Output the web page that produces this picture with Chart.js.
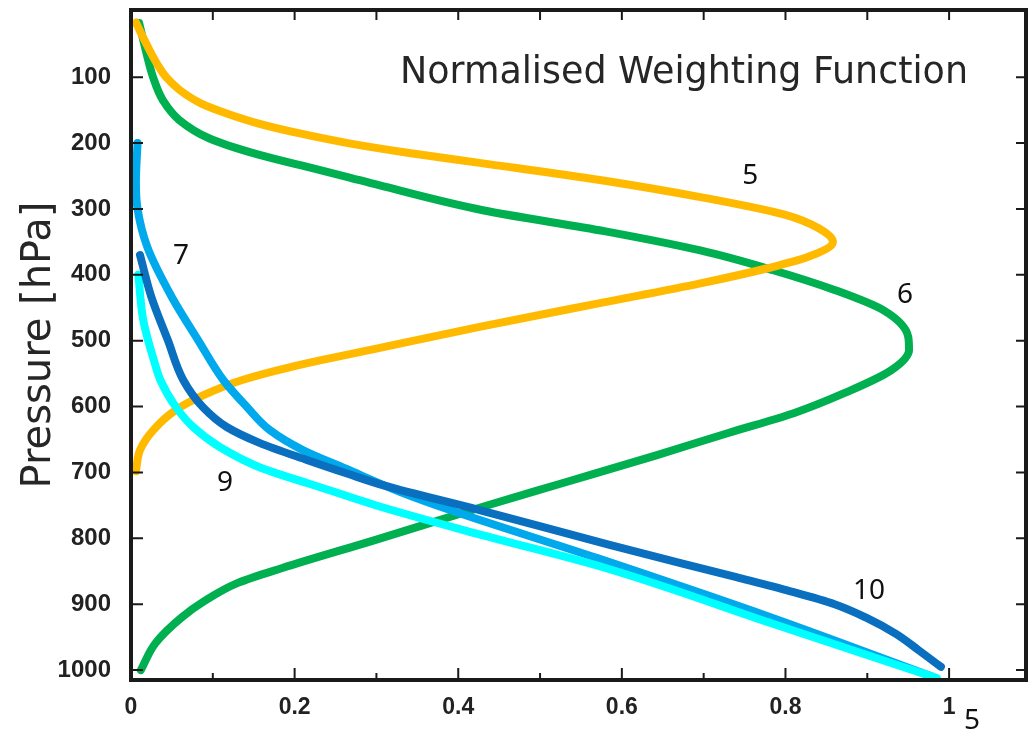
<!DOCTYPE html>
<html>
<head>
<meta charset="utf-8">
<script src="https://cdn.jsdelivr.net/npm/chart.js@4.4.1/dist/chart.umd.min.js"></script>
<style>
  html, body { margin: 0; padding: 0; background: #fff; }
  #wrap { width: 1036px; height: 729px; }
</style>
</head>
<body>
<div id="wrap"><canvas id="wfChart" width="1036" height="729"></canvas></div>
<script>
// tick values
const pressureTicks = [100, 200, 300, 400, 500, 600, 700, 800, 900, 1000];
const weightTicks = [0, 0.1, 0.2, 0.3, 0.4, 0.5, 0.6, 0.7, 0.8, 0.9, 1.0];

// channel 5 (orange)
const ch5Weight = [0.006, 0.019, 0.032, 0.043, 0.06, 0.086, 0.117, 0.155, 0.205, 0.265, 0.34, 0.426, 0.573, 0.696, 0.80, 0.84, 0.858, 0.827, 0.778, 0.696, 0.573, 0.426, 0.30, 0.195, 0.135, 0.088, 0.055, 0.027, 0.011, 0.006];
const ch5Pressure = [17, 50, 80, 100, 120, 140, 155, 170, 185, 200, 215, 230, 256, 282, 309, 329, 350, 373, 390, 413, 443, 479, 512, 540, 560, 583, 605, 636, 666, 698];

// channel 6 (green)
const ch6Weight = [0.01, 0.018, 0.027, 0.039, 0.059, 0.096, 0.157, 0.218, 0.26, 0.303, 0.43, 0.58, 0.696, 0.785, 0.86, 0.92, 0.95, 0.951, 0.929, 0.871, 0.81, 0.73, 0.642, 0.528, 0.43, 0.297, 0.185, 0.13, 0.09, 0.062, 0.03, 0.012];
const ch6Pressure = [18, 59, 100, 135, 165, 193, 218, 237, 250, 264, 302, 334, 363, 393, 423, 454, 494, 514, 545, 580, 610, 640, 674, 716, 752, 803, 845, 868, 895, 920, 959, 1000];

// channel 7 (light blue)
const ch7Weight = [0.008, 0.006, 0.008, 0.02, 0.05, 0.082, 0.113, 0.142, 0.17, 0.21, 0.262, 0.33, 0.39, 0.57, 0.78, 0.98];
const ch7Pressure = [200, 260, 300, 358, 434, 499, 560, 601, 636, 666, 694, 730, 757, 830, 919, 1010];

// channel 9 (cyan)
const ch9Weight = [0.009, 0.015, 0.029, 0.036, 0.055, 0.076, 0.108, 0.157, 0.215, 0.265, 0.305, 0.42, 0.58, 0.79, 0.985];
const ch9Pressure = [400, 469, 534, 560, 601, 631, 661, 692, 716, 736, 752, 792, 845, 932, 1012];

// channel 10 (dark blue)
const ch10Weight = [0.011, 0.025, 0.045, 0.064, 0.088, 0.117, 0.157, 0.215, 0.265, 0.31, 0.426, 0.585, 0.74, 0.805, 0.86, 0.898, 0.935, 0.963, 0.99];
const ch10Pressure = [370, 434, 499, 560, 601, 631, 655, 681, 702, 720, 757, 810, 859, 880, 900, 920, 945, 970, 995];

// curve labels
const labelText = ["5", "6", "7", "9", "10", "5"];
const labelWeight = [0.757, 0.946, 0.061, 0.115, 0.902, 1.028];
const labelPressure = [250, 430, 371, 716, 880, 1078];

function toPoints(xs, ys) {
    return xs.map((x, i) => ({ x: x, y: ys[i] }));
}

function curve(xs, ys, color, order) {
    return {
        data: toPoints(xs, ys),
        indexAxis: "y",
        showLine: true,
        borderColor: color,
        backgroundColor: color,
        borderWidth: 8,
        borderCapStyle: "round",
        borderJoinStyle: "round",
        pointRadius: 0,
        cubicInterpolationMode: "monotone",
        fill: false,
        order: order,
    };
}

// frame, inside ticks and text drawn on top
const decorations = {
    id: "decorations",
    afterDraw(chart) {
        const ctx = chart.ctx;
        const a = chart.chartArea;
        const xs = chart.scales.x;
        const ys = chart.scales.y;
        ctx.save();
        ctx.strokeStyle = "#1a1a1a";
        ctx.lineWidth = 2;
        weightTicks.forEach((v, i) => {
            const px = xs.getPixelForValue(v);
            const len = i % 2 === 0 ? 12 : 7;
            ctx.beginPath();
            ctx.moveTo(px, a.bottom);
            ctx.lineTo(px, a.bottom - len);
            ctx.moveTo(px, a.top);
            ctx.lineTo(px, a.top + 10);
            ctx.stroke();
        });
        pressureTicks.forEach((v) => {
            const py = ys.getPixelForValue(v);
            ctx.beginPath();
            ctx.moveTo(a.left, py);
            ctx.lineTo(a.left + 12, py);
            ctx.moveTo(a.right, py);
            ctx.lineTo(a.right - 10, py);
            ctx.stroke();
        });
        ctx.lineWidth = 4;
        ctx.strokeRect(a.left, a.top, a.right - a.left, a.bottom - a.top);

        // title inside the plot
        const title = "Normalised Weighting Function";
        ctx.font = "37px 'DejaVu Sans'";
        ctx.fillStyle = "#262626";
        ctx.textBaseline = "middle";
        ctx.textAlign = "left";
        const w = ctx.measureText(title).width;
        ctx.save();
        ctx.translate(400, 73);
        ctx.scale(568 / w, 1);
        ctx.fillText(title, 0, 0);
        ctx.restore();

        // curve numbers
        ctx.font = "28px 'Noto Sans'";
        ctx.fillStyle = "#111";
        ctx.textAlign = "center";
        labelText.forEach((t, i) => {
            ctx.fillText(t, xs.getPixelForValue(labelWeight[i]), ys.getPixelForValue(labelPressure[i]));
        });
        ctx.restore();
    },
};

const ctx = document.getElementById("wfChart").getContext("2d");
new Chart(ctx, {
    type: "scatter",
    data: {
        datasets: [
            curve(ch6Weight, ch6Pressure, "#00B050", 5),
            curve(ch5Weight, ch5Pressure, "#FFBA00", 4),
            curve(ch7Weight, ch7Pressure, "#00A8EC", 3),
            curve(ch9Weight, ch9Pressure, "#00FFFF", 2),
            curve(ch10Weight, ch10Pressure, "#0A6FBE", 1),
        ],
    },
    options: {
        responsive: false,
        animation: false,
        layout: { padding: { top: 10, right: 10, left: 0, bottom: 0 } },
        plugins: {
            legend: { display: false },
            tooltip: { enabled: false },
        },
        scales: {
            x: {
                type: "linear",
                min: 0,
                max: 1.094,
                grid: { display: false, drawTicks: false },
                border: { display: false },
                afterBuildTicks(scale) {
                    scale.ticks = weightTicks.map((v) => ({ value: v }));
                },
                afterFit(scale) {
                    scale.height = 49;
                    scale.paddingLeft = 0;
                    scale.paddingRight = 0;
                },
                ticks: {
                    autoSkip: false,
                    maxRotation: 0,
                    padding: 14,
                    color: "#222",
                    font: { family: "'Liberation Sans'", size: 23, weight: "bold" },
                    callback: (v) => (Math.round(v * 10) % 2 === 0 ? String(+v.toFixed(1)) : ""),
                },
            },
            y: {
                type: "linear",
                reverse: true,
                min: -2,
                max: 1015,
                grid: { display: false, drawTicks: false },
                border: { display: false },
                afterBuildTicks(scale) {
                    scale.ticks = pressureTicks.map((v) => ({ value: v }));
                },
                afterFit(scale) {
                    scale.width = 131;
                    scale.paddingTop = 0;
                    scale.paddingBottom = 0;
                },
                ticks: {
                    autoSkip: false,
                    padding: 20,
                    color: "#222",
                    font: { family: "'Liberation Sans'", size: 24, weight: "bold" },
                    callback: (v) => String(v),
                },
                title: {
                    display: true,
                    text: "Pressure [hPa]",
                    color: "#262626",
                    font: { family: "'DejaVu Sans'", size: 40 },
                    padding: { top: 16, bottom: 0 },
                },
            },
        },
    },
    plugins: [decorations],
});
</script>
</body>
</html>
